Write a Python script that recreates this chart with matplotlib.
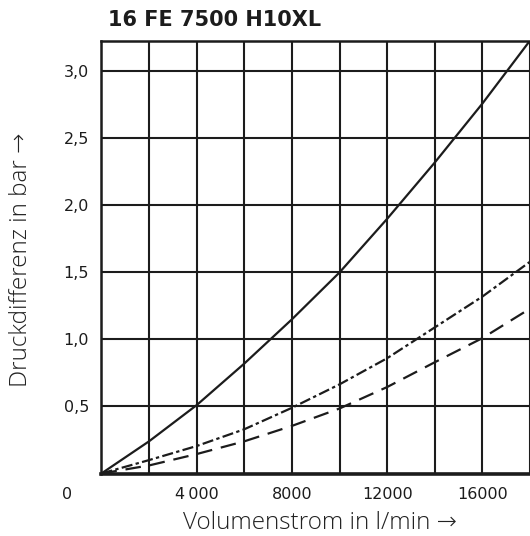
import matplotlib
matplotlib.use("Agg")
import matplotlib.pyplot as plt
import matplotlib.transforms as mtransforms
import numpy as np

# Volume flow (l/min) and pressure difference (bar)
flow = [0, 2000, 4000, 6000, 8000, 10000, 12000, 14000, 16000, 18000]
dp_solid = [0, 0.24, 0.51, 0.82, 1.15, 1.50, 1.90, 2.32, 2.76, 3.23]
dp_dashdot = [0, 0.10, 0.205, 0.33, 0.49, 0.665, 0.86, 1.09, 1.32, 1.58]
dp_dashed = [0, 0.06, 0.145, 0.24, 0.355, 0.485, 0.645, 0.83, 1.01, 1.23]

x_grid = np.arange(0, 18001, 2000)
x_labels = {4000: "4\u2009000", 8000: "8000", 12000: "12000", 16000: "16000"}
y_grid = [0, 0.5, 1.0, 1.5, 2.0, 2.5, 3.0]
y_labels = ["", "0,5", "1,0", "1,5", "2,0", "2,5", "3,0"]

title = "16 FE 7500 H10XL"
xlabel = "Volumenstrom in l/min \u2192"
ylabel = "Druckdifferenz in bar \u2192"

fig = plt.figure(figsize=(5.30, 5.36), dpi=100)
ax = fig.add_axes([0.1913, 0.1166, 0.8087, 0.8077])

ink = "#1c1c1c"

ax.set_xlim(0, 18000)
ax.set_ylim(0, 3.23)
ax.set_xticks(x_grid)
ax.set_xticklabels([x_labels.get(int(v), "") for v in x_grid])
ax.set_yticks(y_grid)
ax.set_yticklabels(y_labels)
ax.tick_params(length=0, labelsize=11.5, colors=ink, pad=9)
ax.tick_params(axis="x", pad=10)
ax.grid(True, color=ink, linewidth=1.5)
ax.set_axisbelow(True)

for side in ("left", "top"):
    ax.spines[side].set_linewidth(1.8)
    ax.spines[side].set_color(ink)
ax.spines["bottom"].set_linewidth(2.6)
ax.spines["bottom"].set_color(ink)
ax.spines["right"].set_visible(False)

# shared origin label, set off to the lower left of the corner
off = mtransforms.offset_copy(ax.transData, fig=fig, x=-34, y=-21, units="dots")
ax.text(0, 0, "0", transform=off, ha="center", va="center",
        fontsize=11.5, color=ink)

ax.plot(flow, dp_solid, color=ink, linewidth=1.6)
ax.plot(flow, dp_dashdot, color=ink, linewidth=1.6,
        dashes=(5, 1.5, 1.5, 1.5))
ax.plot(flow, dp_dashed, color=ink, linewidth=1.6, dashes=(7, 4))

label_font = ["Open Sans", "DejaVu Sans"]
fig.text(107.5 / 530, 1 - 20 / 536, title, ha="left", va="center",
         fontsize=15, fontweight="bold", color=ink)
fig.text(320 / 530, 1 - 523 / 536, xlabel, ha="center", va="center",
         fontsize=17.5, fontweight="light", color="#222222", family=label_font)
fig.text(21 / 530, 1 - 260 / 536, ylabel, ha="center", va="center",
         rotation=90, fontsize=17.5, fontweight="light", color="#222222",
         family=label_font)

fig.savefig("out.png", dpi=100)
